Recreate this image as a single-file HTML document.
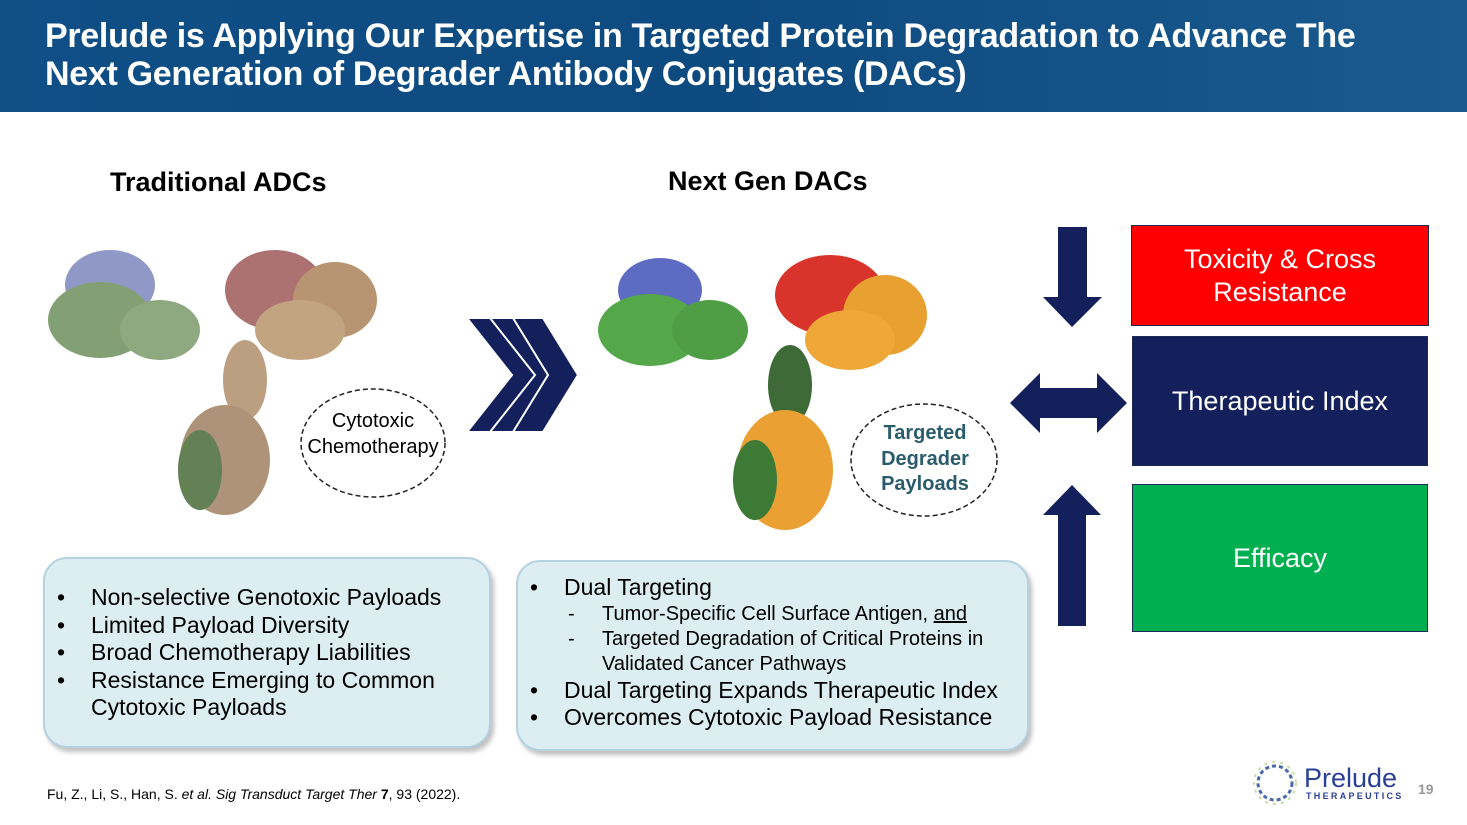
<!DOCTYPE html>
<html><head><meta charset="utf-8"><style>
body{margin:0;width:1467px;height:825px;background:#fff;font-family:"Liberation Sans",Arial,sans-serif;position:relative;overflow:hidden}
.hdr{position:absolute;left:0;top:0;width:1467px;height:112px;background:linear-gradient(90deg,#0f4f86,#0d4a80 50%,#1a5a8e)}
.hdr h1{position:absolute;left:45px;top:17px;margin:0;color:#fff;font-size:34px;line-height:38px;font-weight:bold;letter-spacing:-0.3px}
.abs{position:absolute}
.box{position:absolute;background:#ddeef3;border:2px solid #b4d2e0;border-radius:24px;box-shadow:3px 4px 5px rgba(0,0,0,.25)}
.box ul{margin:0;padding:0;list-style:none;font-size:23px;color:#000}
.box li{position:relative;padding-left:46px;line-height:27.5px}
.box li:before{content:"•";position:absolute;left:12px}
.box li.d{padding-left:84px;font-size:20px;line-height:25px}
.box li.d:before{content:"-";left:50px}
.rb{position:absolute;color:#fff;font-size:27px;text-align:center;display:flex;align-items:center;justify-content:center;line-height:33px;border:1.5px solid #1b2a55;box-sizing:border-box}
</style></head><body>
<div class="hdr"><h1>Prelude is Applying Our Expertise in Targeted Protein Degradation to Advance The<br>Next Generation of Degrader Antibody Conjugates (DACs)</h1></div>
<div class="abs" style="left:110px;top:167px;font-size:27px;font-weight:bold">Traditional ADCs</div>
<div class="abs" style="left:668px;top:166px;font-size:27px;font-weight:bold">Next Gen DACs</div>
<svg class="abs" style="left:0;top:0" width="1467" height="825">
<g opacity="0.95">
<ellipse cx="110" cy="285" rx="45" ry="35" fill="#8a93c4"/>
<ellipse cx="100" cy="320" rx="52" ry="38" fill="#7c9b6c"/>
<ellipse cx="160" cy="330" rx="40" ry="30" fill="#88a57a"/>
<ellipse cx="275" cy="290" rx="50" ry="40" fill="#a86a6a"/>
<ellipse cx="335" cy="300" rx="42" ry="38" fill="#b4906c"/>
<ellipse cx="300" cy="330" rx="45" ry="30" fill="#c0a07a"/>
<ellipse cx="245" cy="380" rx="22" ry="40" fill="#b89a7a"/>
<ellipse cx="225" cy="460" rx="45" ry="55" fill="#ab8e72"/>
<ellipse cx="200" cy="470" rx="22" ry="40" fill="#5c7a4c"/>
</g>
<ellipse cx="373" cy="443" rx="72" ry="54" fill="#fff" stroke="#222" stroke-width="1.5" stroke-dasharray="5,3"/>
<g>
<ellipse cx="660" cy="290" rx="42" ry="32" fill="#5d6cc2"/>
<ellipse cx="650" cy="330" rx="52" ry="36" fill="#54a84a"/>
<ellipse cx="710" cy="330" rx="38" ry="30" fill="#4f9e45"/>
<ellipse cx="830" cy="295" rx="55" ry="40" fill="#d8342c"/>
<ellipse cx="885" cy="315" rx="42" ry="40" fill="#e8a030"/>
<ellipse cx="850" cy="340" rx="45" ry="30" fill="#efa838"/>
<ellipse cx="790" cy="385" rx="22" ry="40" fill="#3d6a36"/>
<ellipse cx="785" cy="470" rx="48" ry="60" fill="#eba034"/>
<ellipse cx="755" cy="480" rx="22" ry="40" fill="#3d7a36"/>
</g>
<ellipse cx="924" cy="460" rx="73" ry="56" fill="#fff" stroke="#222" stroke-width="1.5" stroke-dasharray="5,3"/>
<g fill="#13205c" stroke="#fff" stroke-width="2">
<polygon points="467,318 497,318 542,375 497,432 467,432 512,375"/>
<polygon points="490,318 520,318 565,375 520,432 490,432 535,375"/>
<polygon points="513,318 543,318 578,375 543,432 513,432 548,375"/>
</g>
<polygon fill="#13205c" points="1058,227 1087,227 1087,297 1102,297 1072,327 1043,297 1058,297"/>
<polygon fill="#13205c" points="1010,403 1040,373 1040,388 1097,388 1097,373 1127,403 1097,433 1097,418 1040,418 1040,433"/>
<polygon fill="#13205c" points="1072,485 1101,515 1086,515 1086,626 1058,626 1058,515 1043,515"/>
</svg>
<div class="abs" style="left:302px;top:408px;width:142px;text-align:center;font-size:20px;line-height:26px">Cytotoxic<br>Chemotherapy</div>
<div class="abs" style="left:852px;top:421px;width:146px;text-align:center;font-size:20px;line-height:25.5px;font-weight:bold;color:#2a5c6c">Targeted<br>Degrader<br>Payloads</div>
<div class="rb" style="left:1131px;top:225px;width:298px;height:101px;background:#ff0000">Toxicity &amp; Cross<br>Resistance</div>
<div class="rb" style="left:1132px;top:336px;width:296px;height:130px;background:#13205c">Therapeutic Index</div>
<div class="rb" style="left:1132px;top:484px;width:296px;height:148px;background:#00b050">Efficacy</div>
<div class="box" style="left:43px;top:557px;width:444px;height:187px"><ul style="margin-top:25px">
<li>Non-selective Genotoxic Payloads</li><li>Limited Payload Diversity</li><li>Broad Chemotherapy Liabilities</li><li>Resistance Emerging to Common Cytotoxic Payloads</li></ul></div>
<div class="box" style="left:516px;top:560px;width:509px;height:187px"><ul style="margin-top:12px">
<li>Dual Targeting</li><li class="d">Tumor-Specific Cell Surface Antigen, <u>and</u></li><li class="d">Targeted Degradation of Critical Proteins in Validated Cancer Pathways</li><li>Dual Targeting Expands Therapeutic Index</li><li>Overcomes Cytotoxic Payload Resistance</li></ul></div>
<div class="abs" style="left:47px;top:786px;font-size:14px">Fu, Z., Li, S., Han, S. <i>et al. Sig Transduct Target Ther</i> <b>7</b>, 93 (2022).</div>
<svg class="abs" style="left:1250px;top:758px" width="50" height="50"><circle cx="25" cy="25" r="17" fill="none" stroke="#4a6aa8" stroke-width="3" stroke-dasharray="4,3"/><circle cx="25" cy="25" r="21" fill="none" stroke="#c8dca8" stroke-width="2" stroke-dasharray="3,5"/></svg>
<div class="abs" style="left:1304px;top:764px;font-size:27px;color:#2b3f95;line-height:28px">Prelude</div>
<div class="abs" style="left:1306px;top:791px;font-size:9px;color:#2b3f95;letter-spacing:2.3px;font-weight:bold">THERAPEUTICS</div>
<div class="abs" style="left:1418px;top:781px;font-size:14px;color:#999;font-weight:bold">19</div>
</body></html>
